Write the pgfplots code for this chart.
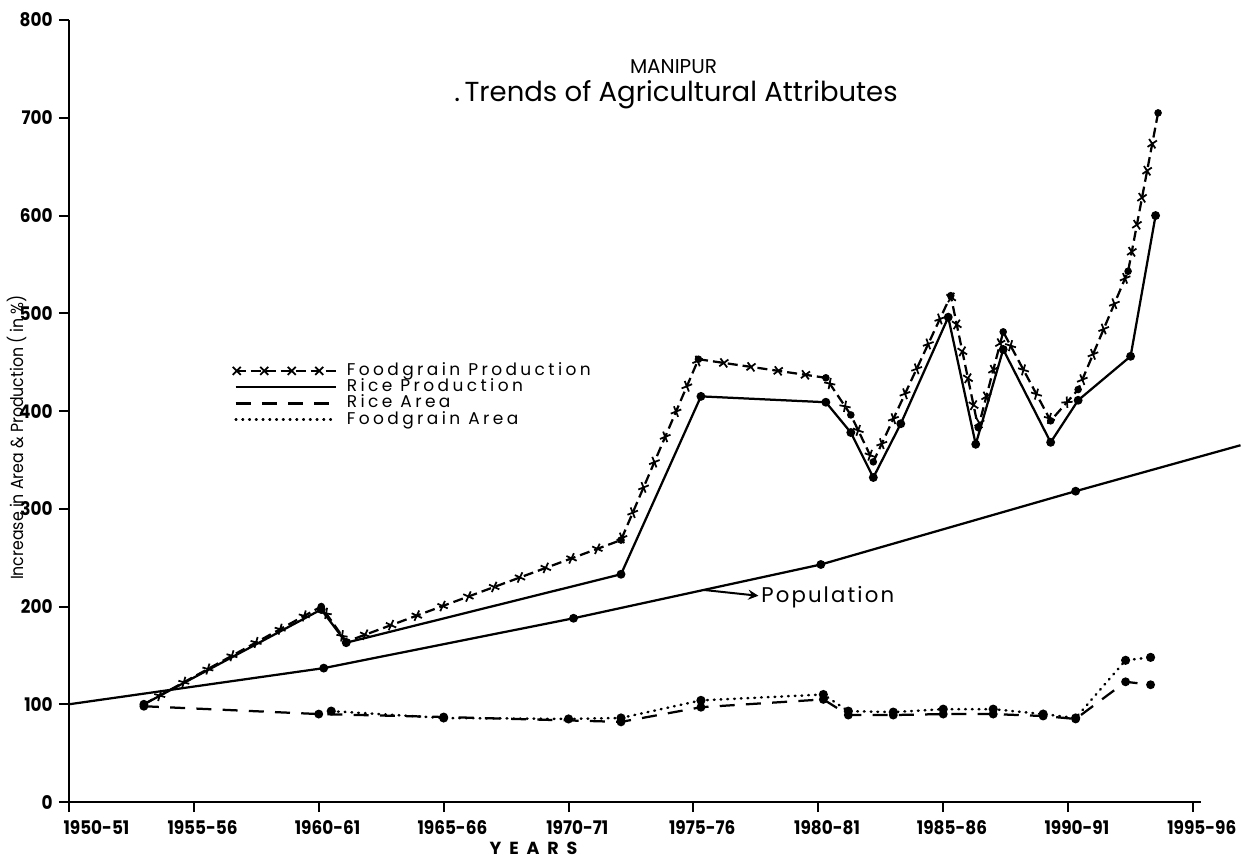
\documentclass[border=0pt]{standalone}
\usepackage{fontspec}
\setmainfont{Poppins}
\newfontfamily\tickfont{Poppins}[FakeStretch=0.9]
\usepackage{pgfplots}
\pgfplotsset{compat=1.18}
\usetikzlibrary{decorations.markings}

\pgfplotstableread{
x y
1953.0 100
1960.1 200
1961.1 164
1972.1 268
1975.2 453
1980.3 434
1981.3 396
1982.2 348
1985.3 518
1986.4 383
1987.4 481
1989.3 390
1990.4 422
1992.4 543
1993.6 705
}\foodprod

\pgfplotstableread{
x y
1953.0 100
1960.1 197
1961.1 163
1972.1 233
1975.3 415
1980.3 409
1981.3 378
1982.2 332
1983.3 387
1985.2 496
1986.3 366
1987.4 463
1989.3 368
1990.4 411
1992.5 456
1993.5 600
}\riceprod

\pgfplotstableread{
x y
1950.0 100
1960.2 137
1970.2 188
1980.1 243
1990.3 318
1996.9 365
}\population

\pgfplotstableread{
x y
1953.0 98
1960.0 90
1965.0 87
1972.1 82
1975.3 97
1980.2 105
1981.2 89
1983.0 89
1985.0 90
1987.0 90
1989.0 88
1990.3 85
1992.3 123
1993.3 120
}\ricearea

\pgfplotstableread{
x y
1960.5 93
1965.0 86
1970.0 85
1972.1 86
1975.3 104
1980.2 110
1981.2 93
1983.0 92
1985.0 95
1987.0 95
1989.0 90
1990.3 86
1992.3 145
1993.3 148
}\foodarea

\begin{document}
\begin{tikzpicture}
\begin{axis}[
  x=9.992pt, y=0.391pt,
  xmin=1950, xmax=1995.3, ymin=0, ymax=800,
  axis lines=left,
  axis line style={-, line width=1.1pt},
  clip=false,
  xtick={1950,1955,...,1995},
  xticklabels={\hspace*{15pt}1950-51,1955-56,1960-61,1965-66,1970-71,1975-76,1980-81,1985-86,1990-91,1995-96},
  ytick={0,100,...,800},
  tick align=outside,
  major tick length=4pt,
  tick style={line width=0.8pt, black},
  ticklabel style={font=\tickfont\bfseries\fontsize{7.5}{9}\selectfont},
  xticklabel style={xshift=3.5pt, yshift=0pt},
  yticklabel style={xshift=1pt},
  /pgf/number format/assume math mode=true,
  legend style={draw=none, fill=none, at={(axis cs:1956.2,455)}, anchor=north west,
    font=\fontsize{6.8}{7}\selectfont\addfontfeatures{LetterSpace=20}, row sep=0pt,
    nodes={inner sep=0pt, text height=5pt, text depth=1.5pt}},
  legend cell align=left,
  legend image code/.code={\draw[#1] (0pt,0pt) -- (40pt,0pt);},
]

\addplot[forget plot, black, line width=0.9pt, mark=*, mark size=1.3pt, mark indices={2,3,4,5}] table[x=x,y=y] {\population};

\addplot[black, line width=0.9pt, dash pattern=on 4pt off 2pt,
  postaction={decorate},
  decoration={markings, mark=between positions 0.01 and 0.99 step 11pt with {\draw[solid, line width=0.7pt] (-1.6pt,-1.6pt)--(1.6pt,1.6pt) (-1.6pt,1.6pt)--(1.6pt,-1.6pt);}}
  ] table[x=x,y=y] {\foodprod};
\addlegendentry{\hspace{4pt}Foodgrain Production}
\addplot[forget plot, black, only marks, mark=*, mark size=1.3pt] table[x=x,y=y] {\foodprod};

\addplot[black, line width=0.9pt, mark=*, mark size=1.3pt] table[x=x,y=y] {\riceprod};
\addlegendentry{\hspace{4pt}Rice Production}

\addplot[black, line width=0.9pt, dash pattern=on 6pt off 4.5pt, mark=*, mark size=1.3pt, mark options={solid}] table[x=x,y=y] {\ricearea};
\addlegendentry{\hspace{4pt}Rice Area}

\addplot[black, line width=1pt, line cap=round, dash pattern=on 0.3pt off 2.4pt, mark=*, mark size=1.3pt, mark options={solid}] table[x=x,y=y] {\foodarea};
\addlegendentry{\hspace{4pt}Foodgrain Area}

\draw[->, >=stealth, line width=0.8pt] (axis cs:1975.4,217) -- (axis cs:1977.6,211);
\node[anchor=west, inner sep=0pt, font=\fontsize{8.5}{9}\selectfont\addfontfeatures{LetterSpace=10}] at (axis cs:1977.7,210) {Population};

\node[font=\fontsize{8}{9}\selectfont] at (axis cs:1974.2,752) {MANIPUR};
\node[font=\fontsize{11}{12}\selectfont] at (axis cs:1974.3,724) {.\,Trends of Agricultural Attributes};

\node[font=\bfseries\fontsize{7}{8}\selectfont\addfontfeatures{LetterSpace=45}] at (axis cs:1968.6,-47) {YEARS};
\node[rotate=90, font=\tickfont\fontsize{7}{8}\selectfont] at (axis cs:1947.9,373) {Increase in Area \& Production ( in \%)};

\coordinate (bbBL) at (axis cs:1947.24,-58.3);
\coordinate (bbTR) at (axis cs:1997.40,820.5);
\end{axis}
\pgfresetboundingbox
\useasboundingbox (bbBL) rectangle (bbTR);
\end{tikzpicture}
\end{document}
